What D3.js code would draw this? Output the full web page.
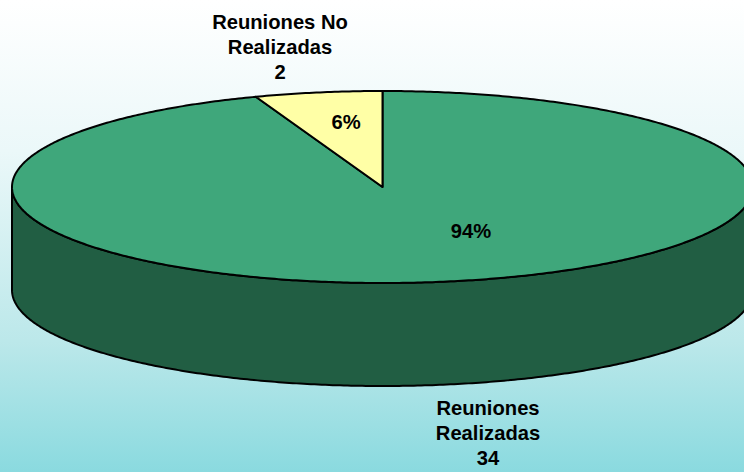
<!DOCTYPE html>
<html>
<head>
<meta charset="utf-8">
<script src="https://cdn.jsdelivr.net/npm/d3@7"></script>
<style>
    html, body { margin: 0; padding: 0; background: #fff; }
    svg { display: block; }
    text { font-family: "Liberation Sans", Arial, sans-serif; font-weight: bold; font-size: 20.2px; fill: #000; }
</style>
</head>
<body>
<div id="chart"></div>
<script>
var categories = ["Reuniones Realizadas", "Reuniones No Realizadas"];
var values = [34, 2];
var percentLabels = ["94%", "6%"];
var categoryLines = [["Reuniones", "Realizadas", "34"], ["Reuniones No", "Realizadas", "2"]];

var svgWidth = 744;
var svgHeight = 472;
var cx = 382.5, cy = 187, rx = 370.5, ry = 96, depth = 103;

var svg = d3.select("#chart")
    .append("svg")
    .attr("width", svgWidth)
    .attr("height", svgHeight);

// background gradient
var grad = svg.append("defs").append("linearGradient")
    .attr("id", "bg")
    .attr("x1", 0).attr("y1", 0).attr("x2", 0).attr("y2", 1);
grad.append("stop").attr("offset", "0%").attr("stop-color", "#ffffff");
grad.append("stop").attr("offset", "32%").attr("stop-color", "#ebf8f9");
grad.append("stop").attr("offset", "72%").attr("stop-color", "#bce8ea");
grad.append("stop").attr("offset", "100%").attr("stop-color", "#8adadf");

svg.append("rect")
    .attr("width", svgWidth)
    .attr("height", svgHeight)
    .attr("fill", "url(#bg)");

// projected ellipse scales
var xScale = d3.scaleLinear().domain([-1, 1]).range([cx - rx, cx + rx]);
var yScale = d3.scaleLinear().domain([-1, 1]).range([cy + ry, cy - ry]);

var pie = d3.pie().sort(null).value(d => d);
var slices = pie(values);

function rim(a0, a1, offset) {
    var n = Math.max(2, Math.ceil(Math.abs(a1 - a0) / 0.01));
    return d3.range(n + 1).map(function(i) {
        var a = a0 + (a1 - a0) * i / n;
        return [xScale(Math.sin(a)), yScale(Math.cos(a)) + offset];
    });
}

var line = d3.line();

// side wall, front half only
var front = rim(Math.PI / 2, Math.PI * 1.5, 0);
var frontBottom = rim(Math.PI * 1.5, Math.PI / 2, depth);
svg.append("path")
    .attr("d", line(front.concat(frontBottom)) + "Z")
    .attr("fill", "#215e43")
    .attr("stroke", "#000")
    .attr("stroke-width", 2)
    .attr("stroke-linejoin", "round");

// top slices
var colors = ["#3fa77b", "#ffffa6"];
svg.selectAll("path.slice")
    .data(slices)
    .enter()
    .append("path")
    .attr("class", "slice")
    .attr("d", d => line([[xScale(0), yScale(0)]].concat(rim(d.startAngle, d.endAngle, 0))) + "Z")
    .attr("fill", (d, i) => colors[i])
    .attr("stroke", "#000")
    .attr("stroke-width", 2)
    .attr("stroke-linejoin", "round");

// labels
var pctPos = [[471, 231], [346, 122]];
svg.selectAll("text.pct")
    .data(percentLabels)
    .enter()
    .append("text")
    .attr("class", "pct")
    .attr("text-anchor", "middle")
    .attr("dominant-baseline", "central")
    .attr("x", (d, i) => pctPos[i][0])
    .attr("y", (d, i) => pctPos[i][1])
    .text(d => d);

var catPos = [[488, 408], [280, 22]];
categoryLines.forEach(function(lines, i) {
    lines.forEach(function(t, j) {
        svg.append("text")
            .attr("text-anchor", "middle")
            .attr("dominant-baseline", "central")
            .attr("x", catPos[i][0])
            .attr("y", catPos[i][1] + j * 25)
            .text(t);
    });
});
</script>
</body>
</html>
